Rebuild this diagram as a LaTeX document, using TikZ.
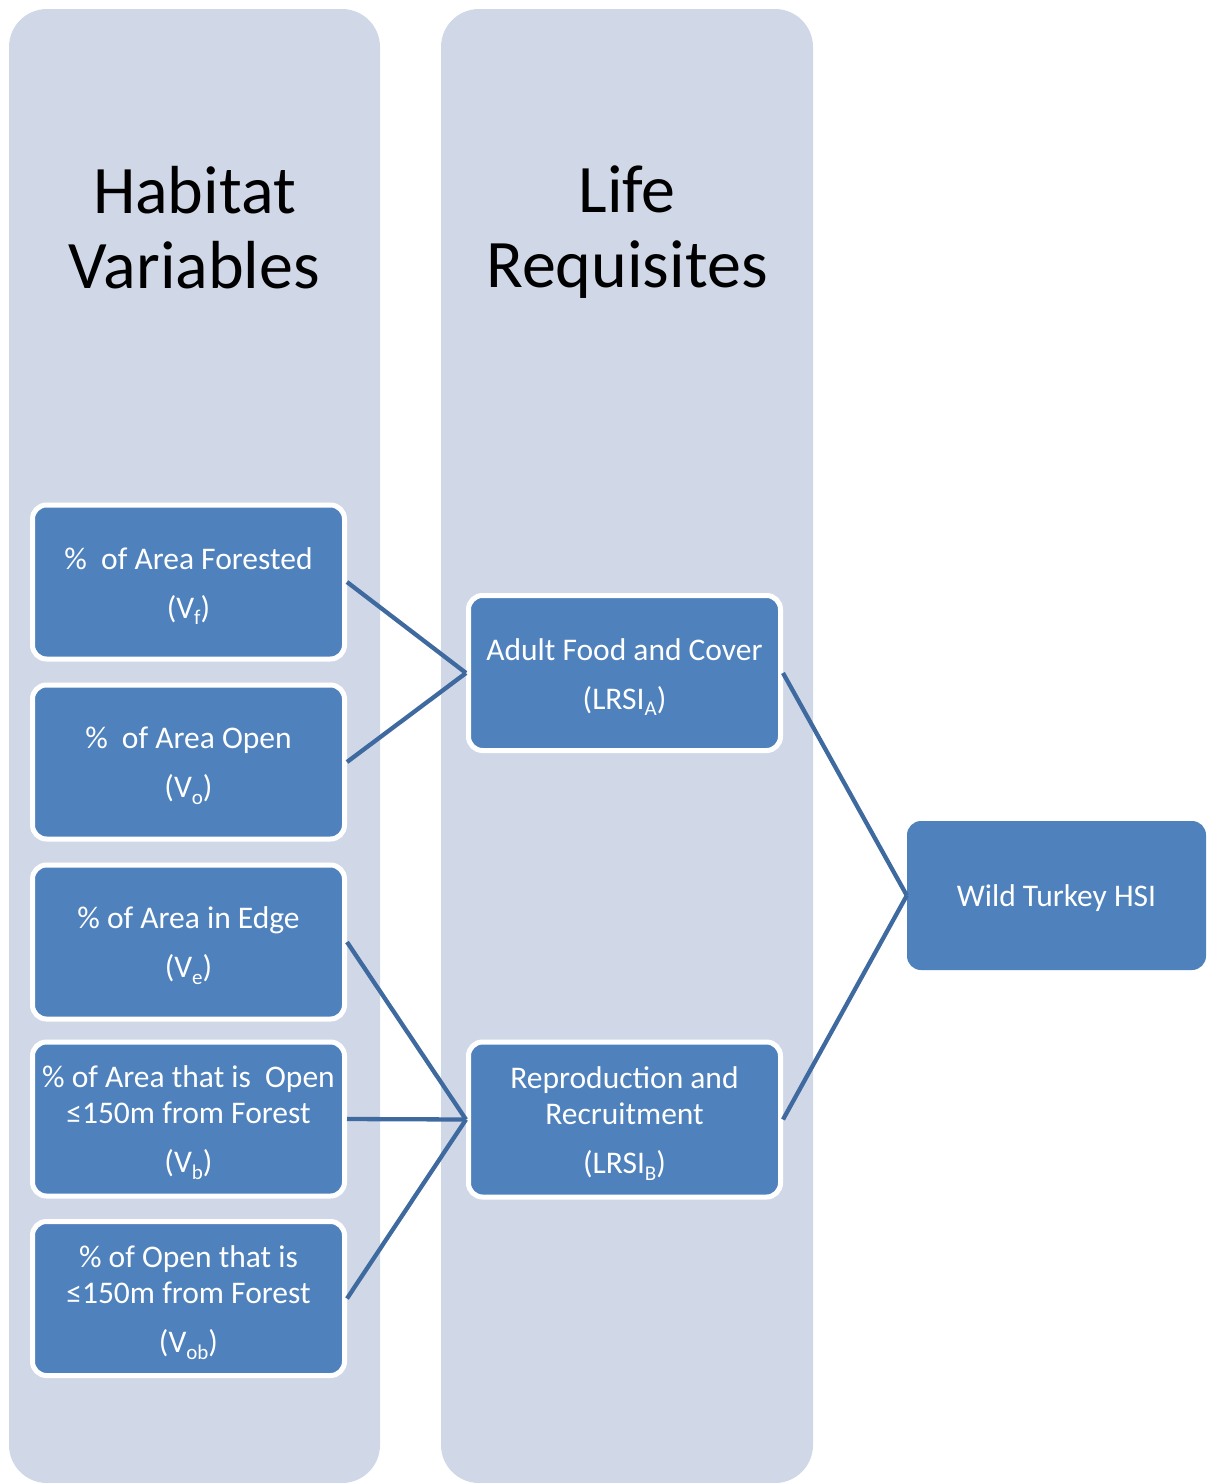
\documentclass[tikz,border=0pt]{standalone}
\usepackage{fontspec}
\setmainfont{Carlito}
\definecolor{colbg}{HTML}{D0D8E8}
\definecolor{boxfill}{HTML}{4F81BD}
\definecolor{linkc}{HTML}{3F6A9F}
\newcommand\subtxt[1]{\raisebox{-0.22em}{\fontsize{21}{21}\selectfont #1}}
\newcommand\topstrut{\rule{0pt}{30pt}}
\begin{document}
\begin{tikzpicture}[x=1pt,y=-1pt,
  column/.style={fill=colbg, rounded corners=38pt},
  coltitle/.style={font=\fontsize{68}{75}\selectfont, align=center, text=black, inner sep=0pt},
  varbox/.style={draw=white, line width=5pt, fill=boxfill, rounded corners=14pt, text=white,
    align=center, font=\fontsize{31.5}{36}\selectfont, inner sep=0pt,
    minimum width=312pt, minimum height=154pt},
  hsibox/.style={fill=boxfill, rounded corners=14pt, text=white, align=center,
    font=\fontsize{31.5}{36}\selectfont, inner sep=0pt, minimum width=299pt, minimum height=149pt},
  link/.style={draw=linkc, line width=4.3pt}]
\useasboundingbox (0,0) rectangle (1207,1483);
% columns
\fill[column] (9,9) rectangle (380,1483);
\fill[column] (441,9) rectangle (813,1483);
% titles
\node[coltitle] (t1) at (194.5,228) {Habitat\\Variables};
\node[coltitle] (t2) at (627,232) {Life\\Requisites};
% habitat variable boxes
\node[varbox] (v1) at (188.5,582) {\topstrut\%\hspace{0.45em}of Area Forested\\[13pt](V\subtxt{f})};
\node[varbox] (v2) at (188.5,762) {\topstrut\%\hspace{0.45em}of Area Open\\[13pt](V\subtxt{o})};
\node[varbox] (v3) at (188.5,942) {\topstrut\% of Area in Edge\\[13pt](V\subtxt{e})};
\node[varbox] (v4) at (188.5,1119) {\topstrut\% of Area that is\hspace{0.45em}Open\\≤150m from Forest\\[13pt](V\subtxt{b})};
\node[varbox] (v5) at (188.5,1298.5) {\topstrut\% of Open that is\\≤150m from Forest\\[13pt](V\subtxt{ob})};
% life requisite boxes
\node[varbox, minimum height=155pt] (la) at (624.5,673) {\topstrut Adult Food and Cover\\[13pt](LRSI\subtxt{A})};
\node[varbox, minimum height=155pt] (lb) at (624.5,1119.5) {\topstrut Reproduction and\\Recruitment\\[13pt](LRSI\subtxt{B})};
% HSI
\node[hsibox] (hsi) at (1056.5,895.5) {\rule{0pt}{28pt}Wild Turkey HSI};
% connectors
\draw[link] (v1.east) -- (la.west);
\draw[link] (v2.east) -- (la.west);
\draw[link] (v3.east) -- (lb.west);
\draw[link] (v4.east) -- (lb.west);
\draw[link] (v5.east) -- (lb.west);
\draw[link] (la.east) -- (hsi.west);
\draw[link] (lb.east) -- (hsi.west);
\end{tikzpicture}
\end{document}
